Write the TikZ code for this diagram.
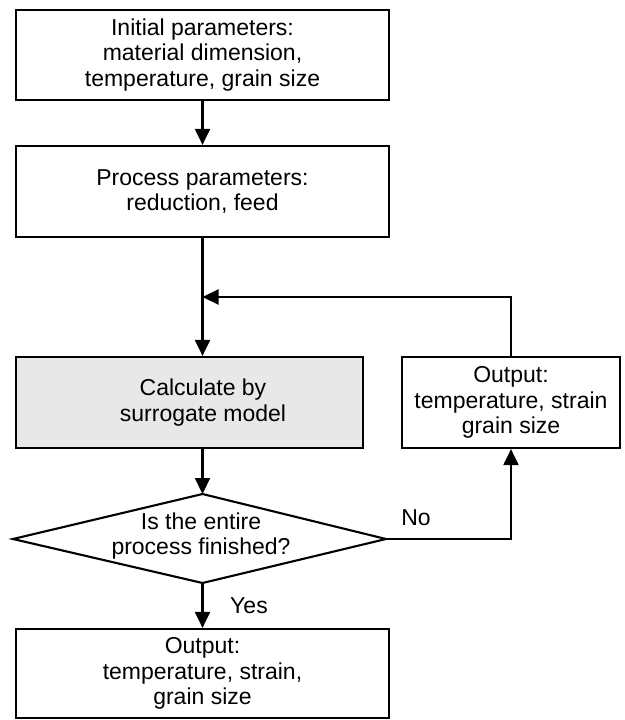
\documentclass[tikz,border=0pt]{standalone}
\usepackage{fontspec}
\setmainfont{Liberation Sans}
\usetikzlibrary{arrows.meta}
\begin{document}
\begin{tikzpicture}[x=1pt,y=-1pt,
  every node/.style={font=\fontsize{23}{25.5}\selectfont},
  box/.style={draw, line width=2.2pt, inner sep=0pt, align=center},
  conn/.style={line width=2.1pt},
  arr/.style={conn, -{Triangle[length=16pt,width=15pt]}},
  lbl/.style={inner sep=0pt}
]
\useasboundingbox (0,0) rectangle (624,720);
\node[box, minimum width=373pt, minimum height=90pt] (init) at (202.5,55)
  {Initial parameters:\\material dimension,\\temperature, grain size};
\node[box, minimum width=373pt, minimum height=91pt] (par) at (202.5,191.5)
  {Process parameters:\\reduction, feed};
\node[box, fill=black!9, minimum width=347pt, minimum height=91pt] (calc) at (189.5,402.5) {};
\node[align=center] (calctext) at (203,402.5) {Calculate by\\surrogate model};
\node[box, minimum width=218pt, minimum height=91pt] (out) at (511,402.5)
  {Output:\\temperature, strain\\grain size};
\node[box, minimum width=373pt, minimum height=89pt] (final) at (202.5,673.5)
  {Output:\\temperature, strain,\\grain size};
\coordinate (dt) at (202.5,494);
\coordinate (dr) at (386,539);
\coordinate (db) at (202.5,583);
\coordinate (dl) at (13,539);
\draw[conn, line join=miter] (dt) -- (dr) -- (db) -- (dl) -- cycle;
\node[align=center] (q) at (201,536) {Is the entire\\process finished?};
\coordinate (j) at (202.5,297);
\draw[arr] (init.south) -- (par.north);
\draw[arr] (par.south) -- (par.south |- calc.north);
\draw[arr] (out.north) |- (j);
\draw[arr] (calc.south -| dt) -- (dt);
\draw[arr] (db) -- (final.north);
\draw[arr] (dr) -| (out.south);
\node[lbl] (no) at (416,518) {No};
\node[lbl] (yes) at (249,606) {Yes};
\end{tikzpicture}
\end{document}
